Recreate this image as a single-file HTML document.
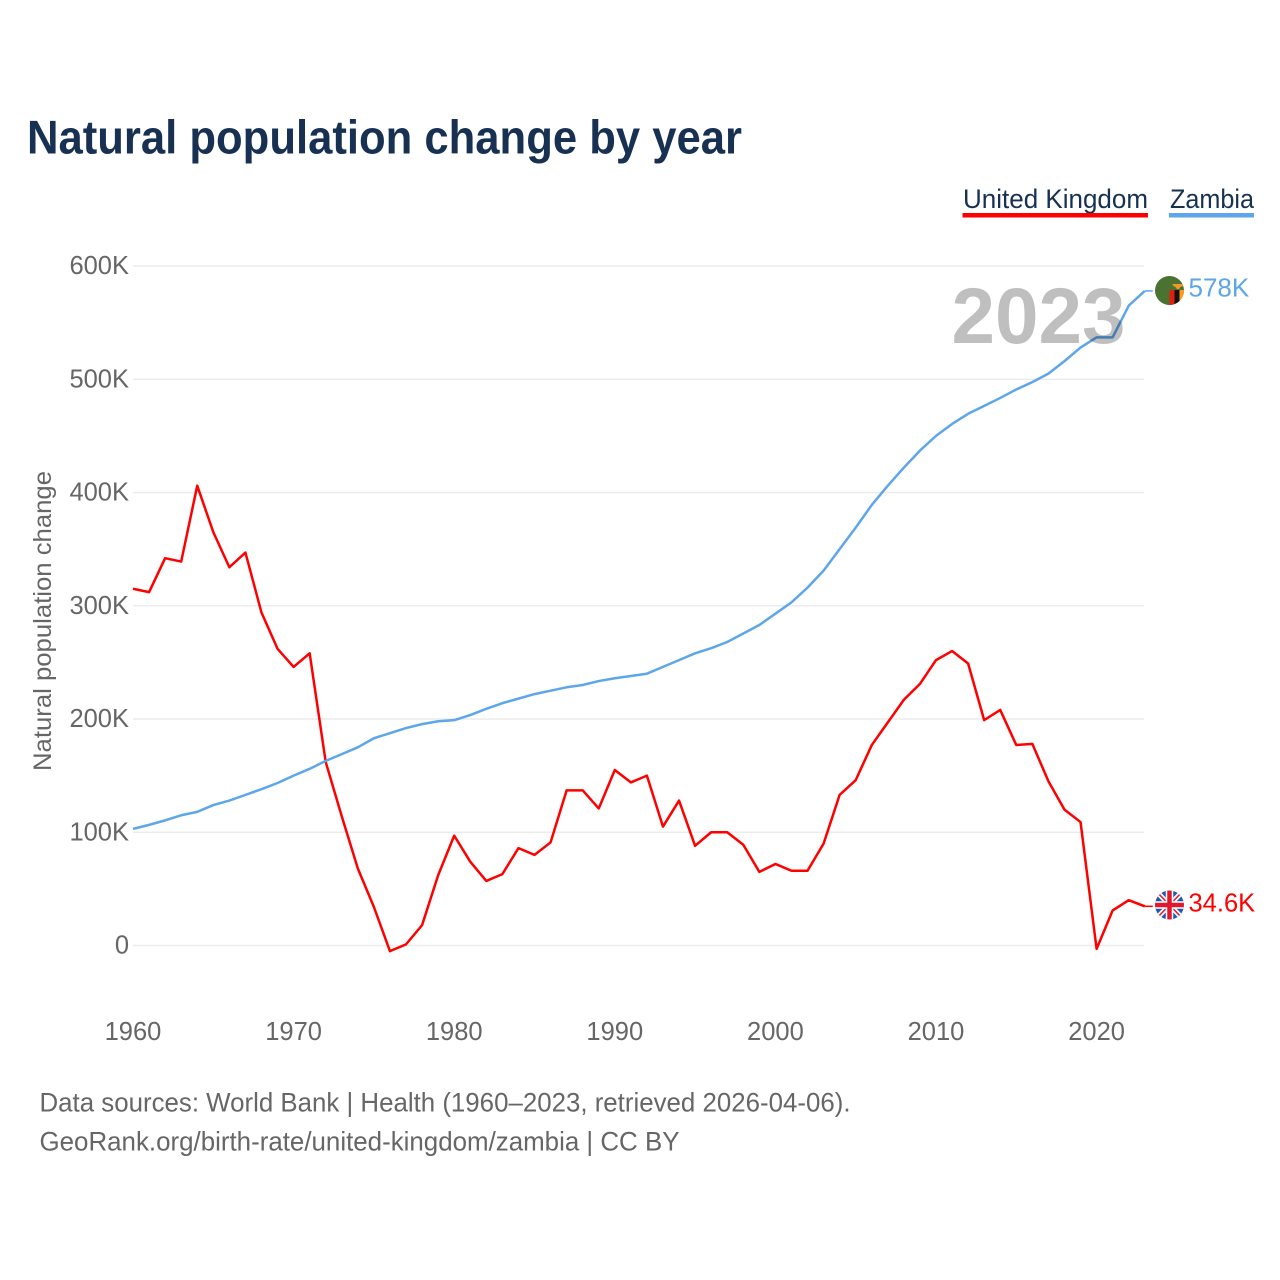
<!DOCTYPE html>
<html lang="en">
<head>
<meta charset="utf-8">
<title>Natural population change by year</title>
<style>
html,body{margin:0;padding:0;background:#fff;}
svg{display:block;font-family:"Liberation Sans",sans-serif;}
</style>
</head>
<body>
<svg id="chart" xmlns="http://www.w3.org/2000/svg" width="1280" height="1280" viewBox="0 0 1280 1280">
  <defs>
    <clipPath id="flag-clip-zm"><circle cx="1169.5" cy="290.5" r="14.5"/></clipPath>
    <clipPath id="flag-clip-uk"><circle cx="1169.5" cy="905" r="14.5"/></clipPath>
  </defs>
  <rect width="1280" height="1280" fill="#ffffff"/>
  <text x="27" y="153.5" font-size="47" font-weight="700" fill="#183153" textLength="715" lengthAdjust="spacingAndGlyphs">Natural population change by year</text>

  <text x="963" y="208" font-size="26.5" fill="#183153" textLength="185" lengthAdjust="spacingAndGlyphs">United Kingdom</text>
  <rect x="962.5" y="213" width="185.5" height="4.5" fill="#ff0000"/>
  <text x="1170" y="208" font-size="26.5" fill="#183153" textLength="84" lengthAdjust="spacingAndGlyphs">Zambia</text>
  <rect x="1169" y="213" width="85" height="4.5" fill="#5ea6ea"/>

  <g id="grid"></g>
  <g id="yticks"></g>
  <g id="xticks"></g>
  <text transform="translate(51,771) rotate(-90)" font-size="25" fill="#666666" textLength="300" lengthAdjust="spacingAndGlyphs">Natural population change</text>

  <g id="series"></g>

  <text x="951.5" y="343" font-size="79" font-weight="700" fill="#000000" fill-opacity="0.25" textLength="174" lengthAdjust="spacingAndGlyphs">2023</text>

  <circle cx="1169.5" cy="290.5" r="15.5" fill="#ffffff"/>
  <g clip-path="url(#flag-clip-zm)">
    <rect x="1155" y="276" width="29" height="29" fill="#4a7230"/>
    <rect x="1169.5" y="290" width="5" height="15" fill="#de2010"/>
    <rect x="1174.5" y="290" width="5" height="15" fill="#111111"/>
    <rect x="1179.5" y="290" width="5" height="15" fill="#ff9a1f"/>
    <path d="M1172 284h14l-3 2.5h-2l-2 2.500h-2l-2-2.500h-1z" fill="#ef9a28"/>
  </g>
  <circle cx="1169.5" cy="905" r="15.5" fill="#ffffff"/>
  <g clip-path="url(#flag-clip-uk)">
    <rect x="1155" y="890" width="29" height="30" fill="#2257b0"/>
    <path d="M1155 890L1184 920M1184 890L1155 920" stroke="#ffffff" stroke-width="5"/>
    <path d="M1155 890L1184 920M1184 890L1155 920" stroke="#d8202f" stroke-width="1.500"/>
    <path d="M1169.5 890V920M1155 905H1184" stroke="#ffffff" stroke-width="7.500"/>
    <path d="M1169.5 890V920M1155 905H1184" stroke="#e0182d" stroke-width="4.500"/>
  </g>
  <g id="endlabels"></g>

  <text x="39.500" y="1111.500" font-size="26.500" fill="#666666" textLength="811" lengthAdjust="spacingAndGlyphs">Data sources: World Bank | Health (1960–2023, retrieved 2026-04-06).</text>
  <text x="39.500" y="1150.500" font-size="26.500" fill="#666666" textLength="640" lengthAdjust="spacingAndGlyphs">GeoRank.org/birth-rate/united-kingdom/zambia | CC BY</text>
</svg>
<script>
const firstYear = 1960;
const ukValues = [315,312,342,339,406,365,334,347,294,262,246,258,162,114,68,34,-5,1,18,62,97,74,57,63,86,80,91,137,137,121,155,144,150,105,128,88,100,100,89,65,72,66,66,90,133,146,177,197,217,231,252,260,249,199,208,177,178,145,120,109,-3,31,40,34.6];
const zambiaValues = [103,106.500,110.500,115,118,124,128,133,138,143.500,150,156,163,169,175,183,187.500,192,195.500,198,199,203.500,209,214,218,222,225,228,230,233.500,236,238,240,246,252,258,262.500,268,275.500,283,293,303,316,331,350,369,389,406,422,437,450,460.500,469.500,476.500,483.500,491,497.500,505,516,528,537,537,565,578];
const yTickValues = [0,100,200,300,400,500,600];
const yTickLabels = ["0","100K","200K","300K","400K","500K","600K"];
const xTickValues = [1960,1970,1980,1990,2000,2010,2020];
const ukEndLabel = "34.6K";
const zambiaEndLabel = "578K";

const NS = "http://www.w3.org/2000/svg";
const xScale = year => 133 + (year - 1960) * 16.06;
const yScale = value => 945.5 - value * 1.1325;
const gridGroup = document.getElementById("grid");
const yTickGroup = document.getElementById("yticks");
const xTickGroup = document.getElementById("xticks");
const seriesGroup = document.getElementById("series");
const endLabelGroup = document.getElementById("endlabels");

function svgEl(tag, attrs, parent, text) {
  const el = document.createElementNS(NS, tag);
  Object.keys(attrs).forEach(k => el.setAttribute(k, attrs[k]));
  if (text !== undefined) el.textContent = text;
  parent.appendChild(el);
  return el;
}

yTickValues.forEach((v, i) => {
  const line = svgEl("line", {x1: 133, x2: 1144, y1: yScale(v), y2: yScale(v), stroke: "#ececec", "stroke-width": 1.5}, gridGroup);
  
  
  const label = svgEl("text", {x: 129, y: yScale(v) + 8, "text-anchor": "end", "font-size": 25.5, fill: "#666666"}, yTickGroup, yTickLabels[i]);
  
  
});

xTickValues.forEach(year => {
  const label = svgEl("text", {x: xScale(year), y: 1040, "text-anchor": "middle", "font-size": 25.5, fill: "#666666"}, xTickGroup, String(year));
  
  
});

function drawSeries(values, color) {
  const pts = values.map((v, i) => xScale(firstYear + i).toFixed(2) + "," + yScale(v).toFixed(2)).join(" ");
  const line = svgEl("polyline", {points: pts, fill: "none", stroke: color, "stroke-width": 2.5, "stroke-linejoin": "round"}, seriesGroup);
  
  
  const lastX = xScale(firstYear + values.length - 1);
  const lastY = yScale(values[values.length - 1]);
  const lead = svgEl("line", {x1: lastX, x2: lastX + 8, y1: lastY, y2: lastY, stroke: color, "stroke-width": 1.5}, seriesGroup);
  
  
  return lastY;
}

const ukLastY = drawSeries(ukValues, "#ff0000");
const zambiaLastY = drawSeries(zambiaValues, "#5ea6ea");

const ukLabel = svgEl("text", {x: 1188.5, y: 911.5, "font-size": 25.5, fill: "#ff0000"}, endLabelGroup, ukEndLabel);


const zambiaLabel = svgEl("text", {x: 1188.5, y: 296.5, "font-size": 26, fill: "#5ea6ea"}, endLabelGroup, zambiaEndLabel);


</script>
</body>
</html>
